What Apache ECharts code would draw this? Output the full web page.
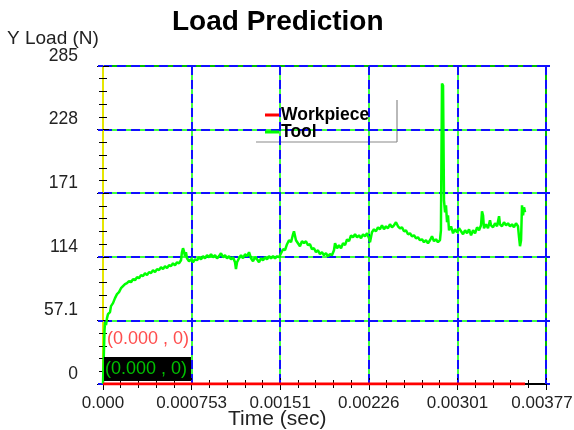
<!DOCTYPE html>
<html>
<head>
<meta charset="utf-8">
<script src="https://cdn.jsdelivr.net/npm/echarts@6/dist/echarts.min.js"></script>
<style>
  html, body { margin: 0; padding: 0; background: #fff; overflow: hidden; }
  #chart { width: 574px; height: 430px; }
</style>
</head>
<body>
<div id="chart"></div>
<script>
// Tick labels
const timeTickLabels = ['0.000', '0.000753', '0.00151', '0.00226', '0.00301', '0.00377'];
const loadTickLabels = ['0', '57.1', '114', '171', '228', '285'];

// Workpiece load (N) over time (s)
const workpieceTime = [0, 0.003587];
const workpieceLoad = [0, 0];

// Tool load (N) over time (s)
const toolTime = [
  0, 0.0000085, 0.000013, 0.000017, 0.0000255, 0.000034, 0.0000425, 0.0000595, 0.000068, 0.000085,
  0.000102, 0.000119, 0.000136, 0.000153, 0.00017, 0.000187, 0.000204, 0.000221, 0.000238, 0.000255,
  0.000272, 0.000289, 0.000306, 0.000323, 0.00034, 0.000357, 0.000374, 0.000391, 0.000408, 0.000425,
  0.000442, 0.000459, 0.000476, 0.000493, 0.00051, 0.000527, 0.000544, 0.000561, 0.000578, 0.000595,
  0.000612, 0.000629, 0.000646, 0.000663, 0.000671, 0.00068, 0.000688, 0.000697, 0.000705, 0.000714,
  0.000731, 0.000748, 0.000765, 0.000782, 0.000799, 0.000816, 0.000833, 0.00085, 0.000867, 0.000884,
  0.000901, 0.000918, 0.000935, 0.000952, 0.000969, 0.000986, 0.001003, 0.00102, 0.001037, 0.001054,
  0.001071, 0.001088, 0.001105, 0.001122, 0.00113, 0.001139, 0.001156, 0.001173, 0.00119, 0.001207,
  0.001224, 0.001241, 0.001258, 0.001275, 0.001292, 0.001309, 0.001326, 0.001343, 0.00136, 0.001377,
  0.001394, 0.001411, 0.001428, 0.001445, 0.001462, 0.001479, 0.001496, 0.001513, 0.00153, 0.001547,
  0.001564, 0.001581, 0.001598, 0.001615, 0.001623, 0.00164, 0.001657, 0.001674, 0.001691, 0.001708,
  0.001725, 0.001742, 0.001759, 0.001776, 0.001793, 0.00181, 0.001827, 0.001844, 0.001861, 0.001878,
  0.001895, 0.001912, 0.001929, 0.001946, 0.001963, 0.001972, 0.001989, 0.002006, 0.002023, 0.00204,
  0.002057, 0.002074, 0.002091, 0.002108, 0.002125, 0.002142, 0.002159, 0.002176, 0.002193, 0.00221,
  0.002227, 0.002244, 0.002261, 0.002269, 0.002286, 0.002303, 0.00232, 0.002337, 0.002354, 0.002371,
  0.002388, 0.002405, 0.002422, 0.002439, 0.002456, 0.002473, 0.00249, 0.002507, 0.002524, 0.002541,
  0.002558, 0.002575, 0.002592, 0.002609, 0.002626, 0.002643, 0.00266, 0.002677, 0.002694, 0.002711,
  0.002728, 0.002745, 0.002762, 0.002779, 0.002796, 0.002813, 0.00283, 0.002847, 0.002864, 0.002872,
  0.002881, 0.00289, 0.002898, 0.002907, 0.002915, 0.002924, 0.002932, 0.002941, 0.002958, 0.002975,
  0.002992, 0.003009, 0.003026, 0.003043, 0.00306, 0.003077, 0.003094, 0.003111, 0.003128, 0.003145,
  0.003162, 0.003179, 0.003196, 0.003213, 0.003221, 0.00323, 0.003238, 0.003255, 0.003272, 0.003289,
  0.003298, 0.003315, 0.003332, 0.003349, 0.003366, 0.003374, 0.003391, 0.003408, 0.003425, 0.003442,
  0.003459, 0.003476, 0.003493, 0.00351, 0.003527, 0.003536, 0.003544, 0.003553, 0.003561, 0.00357,
  0.003578, 0.003587
];
const toolLoad = [
  0, 0, 48.4, 55.6, 52.9, 59.1, 62.7, 64.5, 69.9, 72.6,
  77.1, 80.7, 82.5, 86.0, 87.8, 89.6, 90.5, 92.3, 91.4, 94.1,
  93.2, 95.9, 95.0, 97.7, 96.8, 99.5, 97.7, 100.4, 99.5, 102.2,
  100.4, 103.1, 102.2, 104.9, 103.1, 105.8, 104.0, 106.6, 105.8, 108.4,
  106.6, 109.3, 108.4, 111.1, 118.3, 121.9, 119.2, 114.7, 118.3, 112.9,
  110.2, 112.0, 109.3, 112.0, 111.1, 113.8, 112.0, 114.7, 112.9, 115.6,
  113.8, 116.5, 113.8, 115.6, 112.9, 114.7, 117.4, 113.8, 115.6, 112.9,
  114.7, 112.0, 113.8, 109.3, 103.1, 109.3, 112.9, 115.6, 112.9, 116.5,
  114.7, 118.3, 112.9, 110.2, 113.8, 112.0, 109.3, 112.9, 111.1, 113.8,
  112.0, 114.7, 112.9, 114.7, 112.9, 114.7, 113.8, 117.4, 121.0, 120.1,
  125.5, 129.1, 127.3, 134.4, 137.1, 129.1, 126.4, 123.7, 128.2, 126.4,
  128.2, 124.6, 125.5, 121.0, 121.9, 118.3, 120.1, 116.5, 118.3, 115.6,
  117.4, 114.7, 116.5, 115.6, 120.1, 126.4, 121.9, 124.6, 121.9, 126.4,
  124.6, 129.9, 128.2, 133.5, 131.7, 134.4, 131.7, 133.5, 130.8, 134.4,
  132.6, 135.3, 130.8, 127.3, 136.2, 138.9, 137.1, 140.7, 138.9, 142.5,
  138.9, 141.6, 139.8, 143.4, 140.7, 142.5, 145.2, 141.6, 139.8, 140.7,
  137.1, 138.0, 134.4, 135.3, 132.6, 133.5, 130.8, 131.7, 129.1, 129.9,
  127.3, 129.1, 126.4, 129.1, 132.6, 128.2, 129.9, 127.3, 129.1, 138.0,
  269.8, 268.0, 164.9, 154.1, 160.4, 145.2, 151.4, 138.0, 141.6, 135.3,
  138.9, 136.2, 139.8, 137.1, 134.4, 138.0, 135.3, 138.9, 133.5, 138.0,
  135.3, 140.7, 138.0, 142.5, 155.0, 151.4, 139.8, 143.4, 139.8, 147.0,
  142.5, 140.7, 144.3, 141.6, 150.6, 143.4, 141.6, 145.2, 142.5, 144.3,
  141.6, 143.4, 140.7, 144.3, 141.6, 131.7, 123.7, 129.1, 160.4, 151.4,
  158.6, 154.1
];

const zip = (xs, ys) => xs.map((x, i) => [x, ys[i]]);

const FONT = 'Liberation Sans, Arial, sans-serif';
const TIME_MAX = 0.003765;
const TIME_STEP = 0.000753;
const LOAD_MAX = 285.5;
const LOAD_STEP = 57.1;

const chart = echarts.init(document.getElementById('chart'), null, { renderer: 'canvas' });

// black tick marks pointing into the plot
const innerTicks = () => ({ show: true, inside: true, length: 6, lineStyle: { color: '#000', width: 1 } });
const innerMinor = () => ({ show: true, splitNumber: 5, length: 4, lineStyle: { color: '#000', width: 1 } });
// short blue stubs where the grid lines leave the frame
const outerStub = (len) => ({ show: true, inside: false, length: len, lineStyle: { color: '#1010ff', width: 2 } });

const timeAxis = (extra) => Object.assign({
  type: 'value', min: 0, max: TIME_MAX, interval: TIME_STEP,
  axisLine: { show: false }, axisLabel: { show: false },
  axisTick: { show: false }, splitLine: { show: false }
}, extra);
const loadAxis = (extra) => Object.assign({
  type: 'value', min: 0, max: LOAD_MAX, interval: LOAD_STEP,
  axisLine: { show: false }, axisLabel: { show: false },
  axisTick: { show: false }, splitLine: { show: false }
}, extra);

chart.setOption({
  animation: false,
  backgroundColor: '#fff',
  title: {
    text: 'Load Prediction',
    left: 167,
    top: 3,
    textStyle: { fontFamily: FONT, fontSize: 28, fontWeight: 'bold', color: '#000' }
  },
  legend: {
    orient: 'vertical',
    left: 260,
    top: 101,
    icon: 'rect',
    itemWidth: 14,
    itemHeight: 3,
    itemGap: -1,
    data: ['Workpiece', 'Tool'],
    textStyle: { fontFamily: FONT, fontSize: 17.5, fontWeight: 'bold', color: '#000', padding: [0, 0, 0, -3] }
  },
  grid: {
    left: 103, right: 28, top: 66, bottom: 46,
    outerBoundsMode: 'none', containLabel: false,
    show: true, borderColor: '#000', borderWidth: 2, backgroundColor: '#fff'
  },
  xAxis: [
    timeAxis({
      position: 'bottom',
      axisLine: { show: true, lineStyle: { color: '#000', width: 2 } },
      axisTick: innerTicks(), minorTick: innerMinor(),
      axisLabel: {
        show: true, margin: 11, fontFamily: FONT, fontSize: 17, color: '#222',
        formatter: (v, i) => i === timeTickLabels.length - 1
          ? '{last|' + timeTickLabels[i] + '}'
          : timeTickLabels[i],
        rich: { last: { fontFamily: FONT, fontSize: 17, color: '#222', padding: [0, 8, 0, 0] } }
      },
      splitLine: { show: true, lineStyle: { color: '#00ff00', width: 1.5 } }
    }),
    timeAxis({
      position: 'top',
      axisTick: innerTicks(), minorTick: innerMinor(),
      splitLine: { show: true, lineStyle: { color: '#1010ff', width: 2, type: [9, 5] } }
    }),
    timeAxis({ position: 'top', axisTick: outerStub(4) })
  ],
  yAxis: [
    loadAxis({
      position: 'left',
      axisLine: { show: true, lineStyle: { color: '#e6e600', width: 2 } },
      axisTick: innerTicks(), minorTick: innerMinor(),
      axisLabel: {
        show: true, margin: 25, fontFamily: FONT, fontSize: 17.5, color: '#222',
        verticalAlign: 'bottom', padding: [0, 0, 1, 0],
        formatter: (v, i) => loadTickLabels[i]
      },
      splitLine: { show: true, lineStyle: { color: '#00ff00', width: 1.5 } }
    }),
    loadAxis({
      position: 'right',
      axisTick: innerTicks(), minorTick: innerMinor(),
      splitLine: { show: true, lineStyle: { color: '#1010ff', width: 2, type: [9, 5] } }
    }),
    loadAxis({ position: 'left', axisTick: outerStub(5) }),
    loadAxis({ position: 'right', axisTick: outerStub(4) })
  ],
  graphic: [
    // axis captions
    { type: 'text', left: 7, top: 29, style: { text: 'Y Load (N)', font: '19px ' + FONT, fill: '#222' } },
    { type: 'text', left: 228, top: 409, style: { text: 'Time (sec)', font: '21px ' + FONT, fill: '#222' } },
    // legend drop shadow
    { type: 'line', shape: { x1: 256, y1: 142, x2: 397, y2: 142 }, style: { stroke: '#8a8a8a', lineWidth: 1.2 } },
    { type: 'line', shape: { x1: 397, y1: 100, x2: 397, y2: 142 }, style: { stroke: '#8a8a8a', lineWidth: 1.2 } },
    // cursor readouts
    { type: 'text', left: 107, top: 330, z: 20,
      style: { text: '(0.000 , 0)', font: '18px ' + FONT, fill: '#ff4d4d' } },
    { type: 'rect', shape: { x: 104, y: 357, width: 87, height: 24 }, z: 20, style: { fill: '#000' } },
    { type: 'text', left: 105, top: 360, z: 21,
      style: { text: '(0.000 , 0)', font: '18px ' + FONT, fill: '#00c000' } }
  ],
  series: [
    {
      name: 'Tool', type: 'line', xAxisIndex: 0, yAxisIndex: 0,
      data: zip(toolTime, toolLoad),
      showSymbol: false, symbol: 'none',
      lineStyle: { color: '#00ff00', width: 2.5 },
      itemStyle: { color: '#00ff00' },
      z: 5
    },
    {
      name: 'Workpiece', type: 'line', xAxisIndex: 0, yAxisIndex: 0,
      data: zip(workpieceTime, workpieceLoad),
      showSymbol: false, symbol: 'none',
      lineStyle: { color: '#ff0000', width: 3 },
      itemStyle: { color: '#ff0000' },
      z: 6
    }
  ]
});
</script>
</body>
</html>
